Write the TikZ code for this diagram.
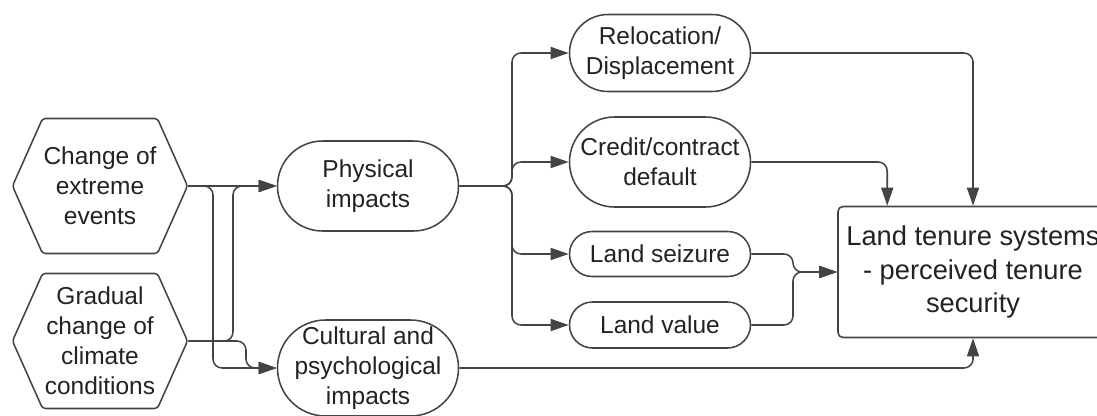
\documentclass[tikz,border=0pt]{standalone}
\usepackage{fontspec}
\setmainfont{Liberation Sans}
\usetikzlibrary{arrows.meta,calc,shapes.symbols}
\definecolor{ink}{HTML}{222222}
\definecolor{wire}{HTML}{444444}
\newcommand{\pxu}{0.025cm}
\tikzset{>={Triangle[length=0.45cm,width=0.3cm]},
  every node/.style={font=\fontsize{17.4}{21.3}\selectfont,text=ink,align=center},
  hexbox/.style={draw=wire,shape=signal,signal to=east and west,signal pointer angle=132,
    minimum width=175*\pxu,minimum height=135*\pxu,inner sep=0pt,rounded corners=3*\pxu},
  pill/.style={draw=wire,rectangle,minimum width=181*\pxu,minimum height=#1*\pxu,
    rounded corners=#1*\pxu/2,inner sep=0pt},
  sysbox/.style={draw=wire,rectangle,rounded corners=5*\pxu,minimum width=270*\pxu,
    minimum height=131*\pxu,inner sep=0pt,font=\fontsize{19.4}{23.8}\selectfont},
  link/.style={->,draw=wire,rounded corners=9*\pxu}}

\begin{document}
\begin{tikzpicture}[x=\pxu,y=-\pxu,line width=1.1pt]
\useasboundingbox(0,0)rectangle(1097,415);
% drivers
\node[hexbox](ext)at(100,186){Change of\\extreme\\events};
\node[hexbox](grad)at(100,341){Gradual\\change of\\climate\\conditions};
% impacts
\node[pill=90](phys)at(368,186){Physical\\impacts};
\node[pill=96](cult)at(368,368){Cultural and\\psychological\\impacts};
\node[pill=77](reloc)at(660,53){Relocation/\\Displacement};
\node[pill=90](credit)at(660,162){Credit/contract\\default};
\node[pill=45](seize)at(660,254){Land seizure};
\node[pill=46](value)at(660,325){Land value};
\node[sysbox](lts)at(973,272){Land tenure systems\\- perceived tenure\\security};
% left connectors
\coordinate(ej)at(213,186);\coordinate(gj)at(233,341);\coordinate(gk)at(246,341);
\draw[link](ext.east)--(phys.west);
\draw[link](ext.east)--(ej)|-(cult.west);
\draw[link](grad.east)--(gj)|-(phys.west);
\draw[link](grad.east)--(gk)|-(cult.west);
% branches of the physical impacts
\coordinate(pj)at(512,186);
\foreach \t in {reloc,credit,seize,value}
  \draw[link](phys.east)--(pj)|-(\t.west);
% into the tenure box
\coordinate(mj)at(793,272);
\draw[link](reloc.east)-|(lts.north);
\draw[link](credit.east)-|($(lts.north west)+(50,0)$);
\draw[link](seize.east)-|(mj)--(lts.west);
\draw[link](value.east)-|(mj)--(lts.west);
\draw[link](cult.east)-|(lts.south);
\end{tikzpicture}
\end{document}
